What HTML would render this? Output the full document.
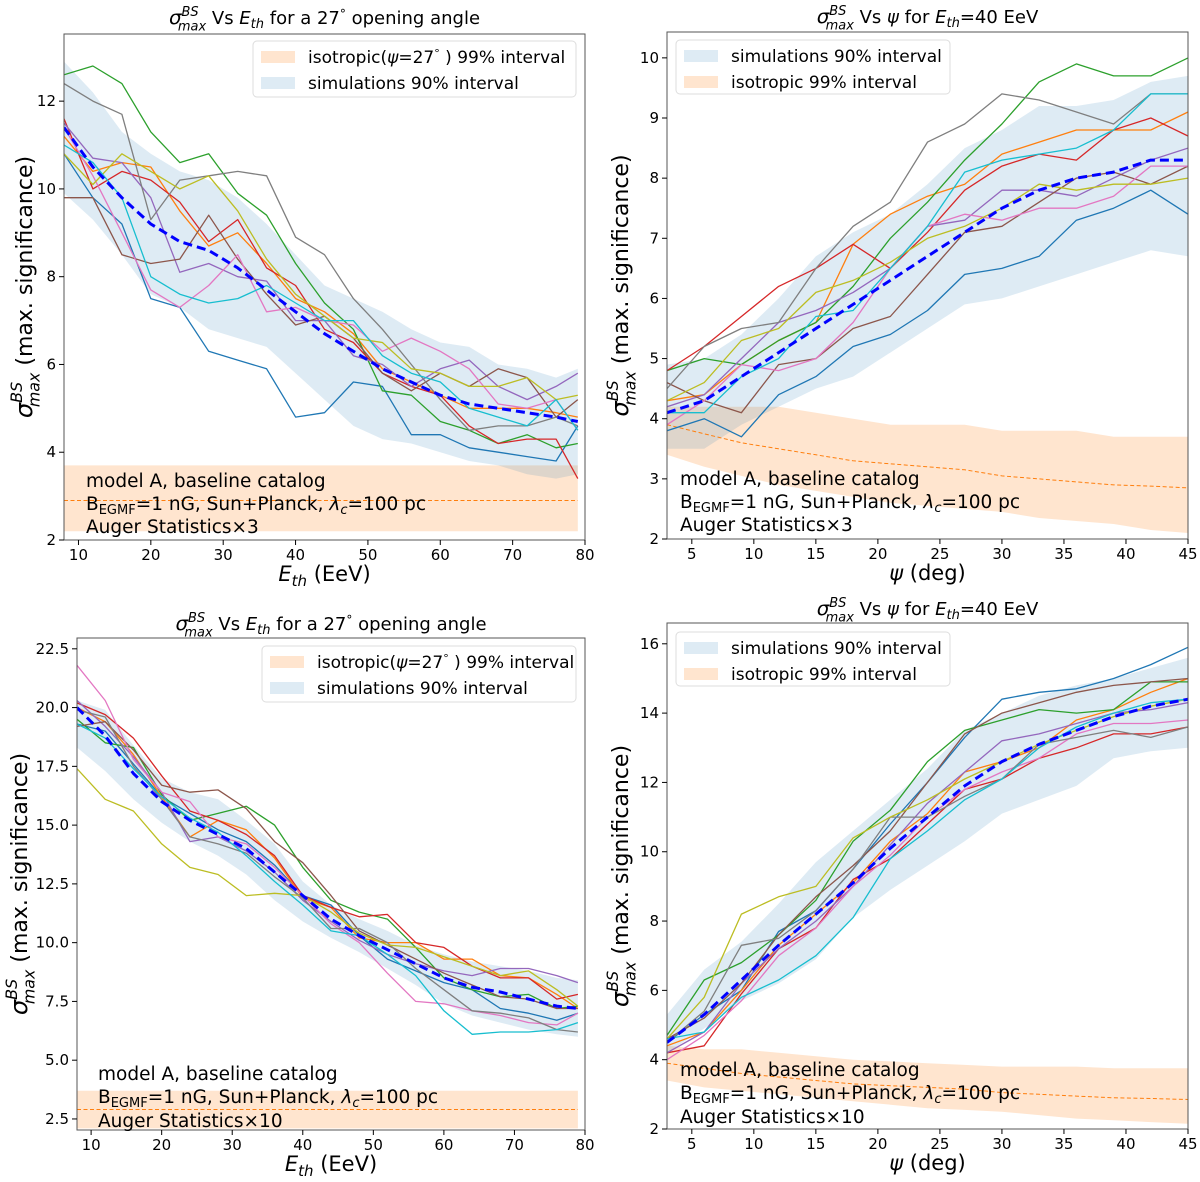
<!DOCTYPE html>
<html><head><meta charset="utf-8"><style>
html,body{margin:0;padding:0;background:#fff}
svg{display:block;font-family:"DejaVu Sans","Liberation Sans",sans-serif}
</style></head><body>
<svg id="fig" width="1200" height="1182" viewBox="0 0 1200 1182" xmlns="http://www.w3.org/2000/svg"></svg>
<script>
// ---------- Panel 1 data (sigma vs Eth, x3) ----------
const eGrid = [8,12,16,20,24,28,32,36,40,44,48,52,56,60,64,68,72,76,79];
const p1Blue   = [10.8,9.8,9.2,7.5,7.3,6.3,6.1,5.9,4.8,4.9,5.6,5.5,4.4,4.4,4.1,4.0,3.9,3.8,4.6];
const p1Orange = [11.2,10.4,10.6,10.5,9.5,8.7,9.0,8.3,7.5,7.2,6.7,5.9,5.6,5.3,5.0,5.0,5.0,4.9,4.8];
const p1Green  = [12.6,12.8,12.4,11.3,10.6,10.8,9.9,9.4,8.3,7.4,6.8,5.4,5.3,4.7,4.5,4.2,4.4,4.1,4.2];
const p1Red    = [11.6,10.0,10.4,10.2,9.7,8.8,9.3,8.2,7.8,6.8,6.5,5.8,5.5,5.3,4.6,4.2,4.3,4.3,3.4];
const p1Purple = [11.5,10.7,10.6,9.8,8.1,8.3,8.0,7.9,7.0,7.0,6.2,6.0,5.5,5.9,6.1,5.5,5.2,5.5,5.8];
const p1Brown  = [9.8,9.8,8.5,8.3,8.4,9.4,8.4,7.6,6.9,7.1,6.6,5.8,5.4,5.8,5.5,5.9,5.7,4.8,5.2];
const p1Pink   = [11.4,10.3,9.0,7.7,7.3,7.8,8.5,7.2,7.3,7.0,6.9,6.3,6.6,6.3,5.9,5.1,5.0,5.2,4.5];
const p1Gray   = [12.4,12.0,11.7,9.3,10.2,10.3,10.4,10.3,8.9,8.5,7.5,6.8,6.0,5.2,4.5,4.6,4.6,4.8,4.6];
const p1Olive  = [10.8,10.1,10.8,10.4,10.0,10.3,9.5,8.4,7.6,7.1,6.6,6.5,5.9,5.8,5.5,5.5,5.7,5.2,5.3];
const p1Cyan   = [11.0,10.6,9.8,8.0,7.6,7.4,7.5,7.8,7.4,7.0,7.0,6.2,5.8,5.6,5.0,4.8,4.6,5.2,4.5];
const p1Mean   = [11.4,10.5,9.8,9.2,8.8,8.6,8.2,7.7,7.2,6.7,6.3,5.9,5.6,5.3,5.1,5.0,4.9,4.8,4.7];
const p1BandHi = [12.9,12.2,11.3,10.8,10.4,10.2,9.8,9.2,8.5,7.8,7.5,7.2,6.8,6.5,6.4,6.0,5.9,5.7,5.9];
const p1BandLo = [9.9,9.3,8.5,7.6,7.3,6.8,6.6,6.4,5.8,5.2,4.6,4.3,4.2,4.0,3.8,3.7,3.5,3.4,3.5];
const p1IsoX = [8,79], p1IsoHi = [3.7,3.7], p1IsoMed = [2.9,2.9], p1IsoLo = [2.2,2.2];

// ---------- Panel 2 data (sigma vs psi, x3) ----------
const psiGrid = [3,6,9,12,15,18,21,24,27,30,33,36,39,42,45];
const p2Blue   = [3.8,4.0,3.7,4.4,4.7,5.2,5.4,5.8,6.4,6.5,6.7,7.3,7.5,7.8,7.4];
const p2Orange = [4.3,4.4,4.9,5.3,5.6,6.9,7.4,7.7,7.9,8.4,8.6,8.8,8.8,8.8,9.1];
const p2Green  = [4.8,5.0,4.9,5.3,5.6,6.2,7.0,7.6,8.3,8.9,9.6,9.9,9.7,9.7,10.0];
const p2Red    = [4.8,5.2,5.7,6.2,6.5,6.9,6.5,7.1,7.8,8.2,8.4,8.3,8.8,9.0,8.7];
const p2Purple = [4.2,4.4,5.0,5.6,5.8,6.1,6.5,7.2,7.3,7.8,7.8,7.7,8.0,8.3,8.5];
const p2Brown  = [4.6,4.3,4.1,4.9,5.0,5.5,5.7,6.4,7.1,7.2,7.6,8.0,8.1,7.9,8.2];
const p2Pink   = [3.9,4.3,4.9,4.8,5.0,5.6,6.5,7.2,7.4,7.3,7.5,7.5,7.7,8.2,8.2];
const p2Gray   = [4.5,5.2,5.5,5.6,6.5,7.2,7.6,8.6,8.9,9.4,9.3,9.1,8.9,9.4,9.4];
const p2Olive  = [4.3,4.6,5.3,5.5,6.1,6.3,6.6,7.0,7.2,7.5,7.9,7.8,7.9,7.9,8.0];
const p2Cyan   = [4.1,4.1,4.7,5.0,5.7,5.8,6.5,7.2,8.1,8.3,8.4,8.5,8.8,9.4,9.4];
const p2Mean   = [4.1,4.3,4.7,5.1,5.5,5.9,6.3,6.7,7.1,7.5,7.8,8.0,8.1,8.3,8.3];
const p2BandHi = [4.9,5.0,5.4,6.0,6.7,7.1,7.4,7.9,8.5,8.8,9.2,9.2,9.3,9.6,9.7];
const p2BandLo = [3.5,3.5,3.9,4.2,4.5,4.7,5.1,5.5,5.9,6.0,6.2,6.4,6.6,6.8,6.7];
const p2IsoHi  = [4.2,4.2,4.2,4.2,4.1,4.0,3.9,3.9,3.9,3.8,3.8,3.8,3.7,3.7,3.7];
const p2IsoMed = [3.9,3.75,3.6,3.5,3.4,3.3,3.25,3.2,3.15,3.05,3.0,2.95,2.9,2.88,2.85];
const p2IsoLo  = [3.4,3.2,3.05,2.9,2.8,2.7,2.6,2.55,2.5,2.45,2.35,2.3,2.25,2.15,2.1];

// ---------- Panel 3 data (sigma vs Eth, x10) ----------
const p3Blue   = [19.3,19.0,17.6,16.2,15.5,14.8,14.3,13.3,12.0,11.6,10.3,9.3,8.8,8.3,8.0,7.2,7.0,6.7,7.0];
const p3Orange = [20.0,19.4,18.0,16.2,14.5,15.2,14.8,13.6,11.9,11.5,10.2,10.0,10.0,9.3,9.3,8.6,8.5,7.8,7.2];
const p3Green  = [19.5,18.5,18.3,16.3,15.2,15.5,15.8,15.0,13.2,11.8,11.3,11.0,9.8,8.5,8.0,7.7,7.8,7.2,7.3];
const p3Red    = [20.2,19.7,18.7,17.1,15.6,15.2,14.6,13.7,12.0,11.5,11.1,11.2,10.0,9.8,9.0,8.5,8.5,7.6,7.8];
const p3Purple = [20.3,19.2,17.9,16.4,14.3,14.5,13.9,13.0,11.8,10.9,10.1,9.5,9.1,8.8,8.6,8.9,8.9,8.6,8.3];
const p3Brown  = [19.2,19.4,18.2,16.7,16.4,16.5,15.7,14.3,13.4,12.0,10.5,9.9,9.3,8.7,8.2,7.7,7.6,7.2,7.2];
const p3Pink   = [21.8,20.3,17.8,16.4,16.0,14.5,14.2,13.2,12.0,10.8,10.0,8.7,7.5,7.4,7.1,6.9,6.6,6.5,7.0];
const p3Gray   = [19.9,19.6,17.5,16.1,14.5,14.2,13.8,12.8,11.9,10.6,10.6,10.0,8.9,8.0,7.1,7.0,6.8,6.3,6.2];
const p3Olive  = [17.4,16.1,15.6,14.2,13.2,12.9,12.0,12.1,12.0,11.3,10.4,9.9,9.8,9.4,9.0,8.6,8.8,8.0,7.3];
const p3Cyan   = [19.3,18.7,17.4,16.2,15.3,14.7,13.7,12.6,11.6,10.5,10.3,9.5,8.6,7.1,6.1,6.2,6.2,6.3,6.6];
const p3Mean   = [20.0,18.8,17.2,16.0,15.2,14.6,14.0,13.0,12.0,11.0,10.3,9.7,9.1,8.5,8.1,7.9,7.6,7.3,7.2];
const p3BandHi = [20.3,19.9,18.4,17.0,16.4,16.1,15.2,14.2,12.6,11.6,11.0,10.5,9.9,9.5,9.2,9.0,8.8,8.5,8.4];
const p3BandLo = [18.3,17.3,16.1,15.1,14.3,13.7,12.9,11.8,10.9,10.2,9.6,8.9,8.2,7.4,6.9,6.6,6.3,6.1,6.0];
const p3IsoHi = [3.7,3.7], p3IsoMed = [2.9,2.9], p3IsoLo = [2.1,2.1];

// ---------- Panel 4 data (sigma vs psi, x10) ----------
const p4Blue   = [4.5,5.3,6.0,7.7,8.3,9.5,10.8,12.0,13.3,14.4,14.6,14.7,15.0,15.4,15.9];
const p4Orange = [4.4,4.8,6.0,7.3,8.2,9.1,10.3,11.1,12.3,12.6,13.0,13.8,14.1,14.6,15.0];
const p4Green  = [4.7,6.3,6.8,7.6,8.6,10.3,11.2,12.6,13.5,13.8,14.1,14.0,14.1,14.9,14.9];
const p4Red    = [4.2,4.4,5.9,7.2,7.8,9.2,9.8,10.8,11.8,12.1,12.7,13.0,13.4,13.4,13.6];
const p4Purple = [4.2,4.8,6.2,7.2,8.0,9.0,10.2,11.4,12.3,13.2,13.4,13.7,14.0,14.1,14.3];
const p4Brown  = [4.6,5.2,6.2,7.6,8.7,9.6,10.6,12.0,13.4,14.0,14.3,14.6,14.8,14.9,15.0];
const p4Pink   = [4.0,4.7,5.7,7.0,7.8,9.0,9.9,11.0,11.8,12.3,12.7,13.4,13.7,13.7,13.8];
const p4Gray   = [4.5,5.4,7.3,7.5,8.3,9.5,11.0,11.0,11.6,12.1,13.1,13.3,13.5,13.3,13.6];
const p4Olive  = [4.6,5.8,8.2,8.7,9.0,10.4,11.0,11.5,12.1,12.6,13.1,13.5,13.9,14.2,14.4];
const p4Cyan   = [4.6,4.8,5.8,6.3,7.0,8.1,9.8,10.6,11.5,12.1,13.0,13.6,14.0,14.3,14.4];
const p4Mean   = [4.5,5.3,6.3,7.3,8.2,9.1,10.1,11.0,11.9,12.6,13.1,13.5,13.9,14.2,14.4];
const p4BandHi = [5.3,6.6,7.4,8.5,9.7,10.6,11.5,12.4,13.5,14.0,14.5,14.8,15.0,15.3,15.6];
const p4BandLo = [4.2,4.9,5.7,6.2,6.9,8.1,8.9,9.6,10.3,11.1,11.5,11.9,12.7,12.9,13.0];
const p4IsoHi  = [4.4,4.3,4.3,4.2,4.1,4.0,3.95,3.9,3.85,3.8,3.8,3.8,3.75,3.75,3.75];
const p4IsoMed = [3.9,3.75,3.6,3.5,3.4,3.3,3.25,3.2,3.15,3.05,3.0,2.95,2.9,2.88,2.85];
const p4IsoLo  = [3.4,3.2,3.1,3.0,2.9,2.8,2.7,2.6,2.55,2.5,2.4,2.3,2.25,2.2,2.15];

const eTicks = [10,20,30,40,50,60,70,80];
const psiTicks = [5,10,15,20,25,30,35,40,45];
const p1YTicks = [2,4,6,8,10,12];
const p2YTicks = [2,3,4,5,6,7,8,9,10];
const p3YTicks = [2.5,5.0,7.5,10.0,12.5,15.0,17.5,20.0,22.5];
const p4YTicks = [2,4,6,8,10,12,14,16];

const colors = ['#1f77b4','#ff7f0e','#2ca02c','#d62728','#9467bd','#8c564b','#e377c2','#7f7f7f','#bcbd22','#17becf'];
const colorNames = ['blue','orange','green','red','purple','brown','pink','gray','olive','cyan'];
const NS = 'http://www.w3.org/2000/svg';
const svg = document.getElementById('fig');

function mk(tag, attrs, parent){
  const e = document.createElementNS(NS, tag);
  for (const k in attrs) e.setAttribute(k, attrs[k]);
  (parent||svg).appendChild(e);
  return e;
}
function tspan(parent, txt, opts){
  const t = document.createElementNS(NS,'tspan');
  if (opts) for (const k in opts) t.setAttribute(k, opts[k]);
  t.textContent = txt; parent.appendChild(t); return t;
}
// writes sigma^BS_max followed by `rest` on the main baseline
function sigmaLabel(t, fs, rest){
  tspan(t,'σ',{'font-style':'italic','font-size':fs*1.1});
  tspan(t,'BS',{'font-style':'italic','font-size':fs*0.72,'dy':-fs*0.45});
  tspan(t,'max',{'font-style':'italic','font-size':fs*0.72,'dx':-fs*1.15,'dy':fs*0.8});
  tspan(t,rest,{'dy':-fs*0.35});
}

function panel(cfg){
  const g = mk('g',{});
  
  
  const L=cfg.box[0], T=cfg.box[1], R=cfg.box[2], B=cfg.box[3];
  const sx = v => L + (v-cfg.xd[0])/(cfg.xd[1]-cfg.xd[0])*(R-L);
  const sy = v => B - (v-cfg.yd[0])/(cfg.yd[1]-cfg.yd[0])*(B-T);
  const clipId = cfg.name+'-clip';
  const cp = mk('clipPath',{id:clipId},g); mk('rect',{x:L,y:T,width:R-L,height:B-T},cp);
  const pg = mk('g',{'clip-path':'url(#'+clipId+')'},g);
  function band(xs, hi, lo, color, op, nm){
    let d='M'+xs.map((x,i)=>sx(x).toFixed(1)+','+sy(hi[i]).toFixed(1)).join('L');
    for (let i=xs.length-1;i>=0;i--) d+='L'+sx(xs[i]).toFixed(1)+','+sy(lo[i]).toFixed(1);
    const p = mk('path',{d:d+'Z',fill:color,'fill-opacity':op,stroke:'none'},pg);
    
    
  }
  function line(xs, ys, color, w, dash, nm){
    const p = mk('polyline',{points:xs.map((x,i)=>sx(x).toFixed(1)+','+sy(ys[i]).toFixed(1)).join(' '),fill:'none',stroke:color,'stroke-width':w,'stroke-linejoin':'round'},pg);
    if (dash) p.setAttribute('stroke-dasharray',dash);
    
    
  }
  band(cfg.isoX, cfg.isoHi, cfg.isoLo, '#ff7f0e', 0.2, 'isotropic-band');
  band(cfg.x, cfg.bandHi, cfg.bandLo, '#1f77b4', 0.15, 'simulation-band');
  line(cfg.isoX, cfg.isoMed, '#ff7f0e', 1, '4,2.5', 'isotropic-median');
  cfg.lines.forEach((ys,i)=>line(cfg.x, ys, colors[i], 1.3, null, 'series-'+colorNames[i]));
  line(cfg.x, cfg.mean, '#0000ff', 3, '9,5', 'mean-line');
  mk('rect',{x:L,y:T,width:R-L,height:B-T,fill:'none',stroke:'#555','stroke-width':1},g);
  cfg.xt.forEach(v=>{
    const x=sx(v); mk('line',{x1:x,x2:x,y1:B,y2:B+5,stroke:'#000'},g);
    const t=mk('text',{x:x,y:B+20,'text-anchor':'middle','font-size':15},g); t.textContent=v;
     
  });
  cfg.yt.forEach(v=>{
    const y=sy(v); mk('line',{x1:L-5,x2:L,y1:y,y2:y,stroke:'#000'},g);
    const t=mk('text',{x:L-8,y:y+5,'text-anchor':'end','font-size':15},g); t.textContent=cfg.yfmt?v.toFixed(1):v;
     
  });
  const tt = mk('text',{x:(L+R)/2,y:cfg.titleY,'text-anchor':'middle','font-size':18},g);
   
  sigmaLabel(tt,18,' Vs ');
  if (cfg.kind==='E'){
    tspan(tt,'E',{'font-style':'italic'}); tspan(tt,'th',{'font-style':'italic','font-size':13,'dy':4});
    tspan(tt,' for a 27',{'dy':-4}); tspan(tt,'°',{'font-size':12,'dy':-6}); tspan(tt,'  opening angle',{'dy':6});
  } else {
    tspan(tt,'ψ',{'font-style':'italic'}); tspan(tt,' for '); tspan(tt,'E',{'font-style':'italic'});
    tspan(tt,'th',{'font-style':'italic','font-size':13,'dy':4}); tspan(tt,'=40 EeV',{'dy':-4});
  }
  const xl = mk('text',{x:(L+R)/2,y:B+41,'text-anchor':'middle','font-size':21},g);
   
  if (cfg.kind==='E'){ tspan(xl,'E',{'font-style':'italic'}); tspan(xl,'th',{'font-style':'italic','font-size':15,'dy':5}); tspan(xl,' (EeV)',{'dy':-5}); }
  else { tspan(xl,'ψ',{'font-style':'italic'}); tspan(xl,' (deg)'); }
  const cy=(T+B)/2, cx=cfg.ylx;
  const yl = mk('text',{x:cx,y:cy,'text-anchor':'middle','font-size':22,transform:'rotate(-90 '+cx+' '+cy+')'},g);
   
  sigmaLabel(yl,22,' (max. significance)');
  const lg = cfg.legend;
  const lgG = mk('g',{},g);
   
  mk('rect',{x:lg.x,y:lg.y,width:lg.w,height:lg.h,rx:4,fill:'#fff','fill-opacity':0.85,stroke:'#ddd'},lgG);
  lg.items.forEach((it,i)=>{
    const yy = lg.y+10+i*26;
    mk('rect',{x:lg.x+8,y:yy,width:34,height:12,fill:it.c,'fill-opacity':it.o},lgG);
    const t=mk('text',{x:lg.x+55,y:yy+12,'font-size':17},lgG);
     
    if (it.iso27){ tspan(t,'isotropic('); tspan(t,'ψ',{'font-style':'italic'}); tspan(t,'=27'); tspan(t,'°',{'font-size':11,'dy':-6}); tspan(t,' ) 99% interval',{'dy':6}); }
    else t.textContent = it.t;
  });
  const an = cfg.annot;
  const a1 = mk('text',{x:an.x,y:an.y[0],'font-size':18.5},g); a1.textContent='model A, baseline catalog';
   
  const a2 = mk('text',{x:an.x,y:an.y[1],'font-size':18.5},g);
   
  tspan(a2,'B'); tspan(a2,'EGMF',{'font-size':13,'dy':4}); tspan(a2,'=1 nG, Sun+Planck, ',{'dy':-4});
  tspan(a2,'λ',{'font-style':'italic'}); tspan(a2,'c',{'font-style':'italic','font-size':13,'dy':4}); tspan(a2,'=100 pc',{'dy':-4});
  const a3 = mk('text',{x:an.x,y:an.y[2],'font-size':18.5},g); a3.textContent='Auger Statistics×'+an.mult;
   
}

const legE = [{c:'#ff7f0e',o:0.2,iso27:true},{c:'#1f77b4',o:0.15,t:'simulations 90% interval'}];
const legP = [{c:'#1f77b4',o:0.15,t:'simulations 90% interval'},{c:'#ff7f0e',o:0.2,t:'isotropic 99% interval'}];

panel({name:'panel-eth-x3',kind:'E',box:[64,34,585,540],xd:[8,80],yd:[2,13.53],xt:eTicks,yt:p1YTicks,
  x:eGrid,lines:[p1Blue,p1Orange,p1Green,p1Red,p1Purple,p1Brown,p1Pink,p1Gray,p1Olive,p1Cyan],
  mean:p1Mean,bandHi:p1BandHi,bandLo:p1BandLo,isoX:p1IsoX,isoHi:p1IsoHi,isoMed:p1IsoMed,isoLo:p1IsoLo,
  titleY:24,ylx:32,legend:{x:253,y:41,w:323,h:56,items:legE},annot:{x:86,y:[487,510,533],mult:3}});
panel({name:'panel-psi-x3',kind:'P',box:[667,32,1188,539],xd:[3,45],yd:[2,10.43],xt:psiTicks,yt:p2YTicks,
  x:psiGrid,lines:[p2Blue,p2Orange,p2Green,p2Red,p2Purple,p2Brown,p2Pink,p2Gray,p2Olive,p2Cyan],
  mean:p2Mean,bandHi:p2BandHi,bandLo:p2BandLo,isoX:psiGrid,isoHi:p2IsoHi,isoMed:p2IsoMed,isoLo:p2IsoLo,
  titleY:23,ylx:628,legend:{x:676,y:40,w:274,h:54,items:legP},annot:{x:680,y:[485,508,531],mult:3}});
panel({name:'panel-eth-x10',kind:'E',box:[77,638,585,1130],xd:[8,80],yd:[2.03,22.96],xt:eTicks,yt:p3YTicks,yfmt:true,
  x:eGrid,lines:[p3Blue,p3Orange,p3Green,p3Red,p3Purple,p3Brown,p3Pink,p3Gray,p3Olive,p3Cyan],
  mean:p3Mean,bandHi:p3BandHi,bandLo:p3BandLo,isoX:p1IsoX,isoHi:p3IsoHi,isoMed:p3IsoMed,isoLo:p3IsoLo,
  titleY:630,ylx:27,legend:{x:262,y:646,w:314,h:56,items:legE},annot:{x:98,y:[1080,1103,1127],mult:10}});
panel({name:'panel-psi-x10',kind:'P',box:[667,623,1188,1129],xd:[3,45],yd:[2,16.6],xt:psiTicks,yt:p4YTicks,
  x:psiGrid,lines:[p4Blue,p4Orange,p4Green,p4Red,p4Purple,p4Brown,p4Pink,p4Gray,p4Olive,p4Cyan],
  mean:p4Mean,bandHi:p4BandHi,bandLo:p4BandLo,isoX:psiGrid,isoHi:p4IsoHi,isoMed:p4IsoMed,isoLo:p4IsoLo,
  titleY:615,ylx:628,legend:{x:676,y:632,w:274,h:54,items:legP},annot:{x:680,y:[1076,1099,1123],mult:10}});
</script>
</body></html>
